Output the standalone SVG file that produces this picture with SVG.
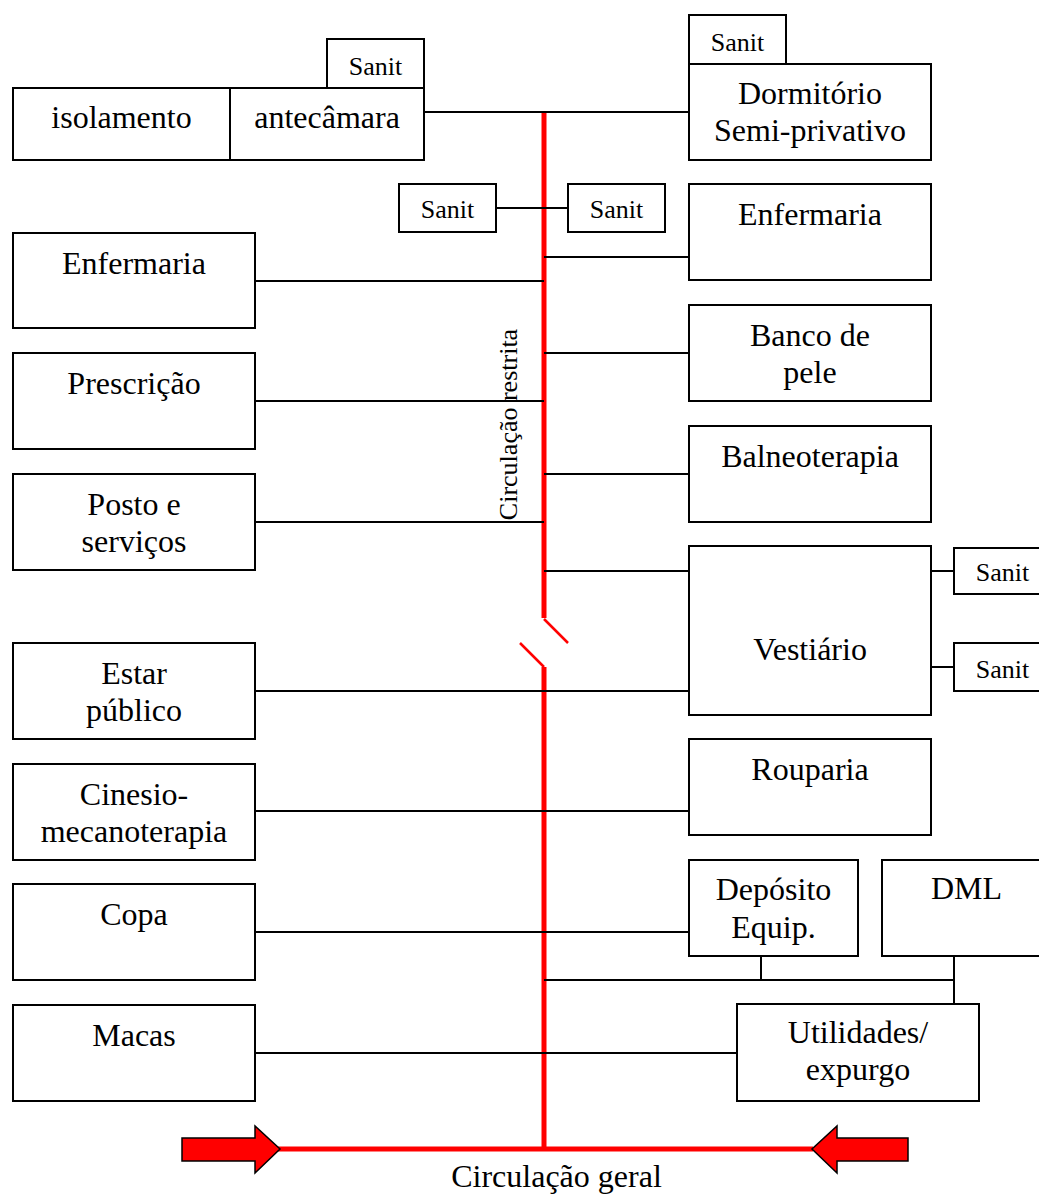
<svg xmlns="http://www.w3.org/2000/svg" width="1039" height="1196" viewBox="0 0 1039 1196">
<style>
.box{fill:#fff;stroke:#000;stroke-width:2}
.t{font-family:"Liberation Serif","Times New Roman",serif;font-size:32px;fill:#000;text-anchor:middle}
.s{font-family:"Liberation Serif","Times New Roman",serif;font-size:26px;fill:#000;text-anchor:middle}
.c{stroke:#000;stroke-width:2;fill:none}
.red{stroke:#f00;stroke-width:5;fill:none}
.redthin{stroke:#f00;stroke-width:2.5;fill:none}
.arrow{fill:#f00;stroke:#000;stroke-width:1.5}
</style>
<rect width="1039" height="1196" fill="#fff"/>
<g id="circulation">
<line class="red" x1="544" y1="112" x2="544" y2="618"/>
<line class="redthin" x1="544" y1="619" x2="568" y2="643"/>
<line class="redthin" x1="520" y1="643" x2="544" y2="667"/>
<line class="red" x1="544" y1="667" x2="544" y2="1149"/>
<line class="red" x1="277" y1="1149" x2="813" y2="1149"/>
<polygon class="arrow" points="182,1138 255,1138 255,1126 280,1149 255,1173 255,1161 182,1161"/>
<polygon class="arrow" points="908,1138 837,1138 837,1126 812,1149 837,1173 837,1161 908,1161"/>
<text class="s" transform="translate(517,424.5) rotate(-90)">Circulação restrita</text>
<text class="t" x="556.5" y="1187">Circulação geral</text>
</g>
<g id="connectors">
<line class="c" x1="424" y1="112" x2="689" y2="112"/>
<line class="c" x1="496" y1="208" x2="568" y2="208"/>
<line class="c" x1="544" y1="257" x2="689" y2="257"/>
<line class="c" x1="255" y1="281" x2="544" y2="281"/>
<line class="c" x1="544" y1="353" x2="689" y2="353"/>
<line class="c" x1="255" y1="401" x2="544" y2="401"/>
<line class="c" x1="544" y1="474" x2="689" y2="474"/>
<line class="c" x1="255" y1="522" x2="544" y2="522"/>
<line class="c" x1="544" y1="571" x2="689" y2="571"/>
<line class="c" x1="931" y1="571" x2="954" y2="571"/>
<line class="c" x1="931" y1="667" x2="954" y2="667"/>
<line class="c" x1="255" y1="691" x2="689" y2="691"/>
<line class="c" x1="255" y1="811" x2="689" y2="811"/>
<line class="c" x1="255" y1="932" x2="689" y2="932"/>
<line class="c" x1="761" y1="956" x2="761" y2="980"/>
<line class="c" x1="544" y1="980" x2="954" y2="980"/>
<line class="c" x1="954" y1="956" x2="954" y2="1004"/>
<line class="c" x1="255" y1="1053" x2="737" y2="1053"/>
</g>
<g id="isolamento"><rect class="box" x="13" y="88" width="217" height="72"/><text class="t" x="121.5" y="128">isolamento</text></g>
<g id="antecamara"><rect class="box" x="230" y="88" width="194" height="72"/><text class="t" x="327" y="128">antecâmara</text></g>
<g id="sanit-antecamara"><rect class="box" x="327" y="39" width="97" height="49"/><text class="s" x="375.5" y="75">Sanit</text></g>
<g id="sanit-dormitorio"><rect class="box" x="689" y="15" width="97" height="49"/><text class="s" x="737.5" y="51">Sanit</text></g>
<g id="dormitorio"><rect class="box" x="689" y="64" width="242" height="96"/><text class="t" x="810" y="104">Dormitório</text><text class="t" x="810" y="141">Semi-privativo</text></g>
<g id="sanit-left"><rect class="box" x="399" y="184" width="97" height="48"/><text class="s" x="447.5" y="218">Sanit</text></g>
<g id="sanit-right"><rect class="box" x="568" y="184" width="97" height="48"/><text class="s" x="616.5" y="218">Sanit</text></g>
<g id="enfermaria-right"><rect class="box" x="689" y="184" width="242" height="96"/><text class="t" x="810" y="225">Enfermaria</text></g>
<g id="enfermaria-left"><rect class="box" x="13" y="233" width="242" height="95"/><text class="t" x="134" y="274">Enfermaria</text></g>
<g id="banco-de-pele"><rect class="box" x="689" y="305" width="242" height="96"/><text class="t" x="810" y="346">Banco de</text><text class="t" x="810" y="383">pele</text></g>
<g id="prescricao"><rect class="box" x="13" y="353" width="242" height="96"/><text class="t" x="134" y="394">Prescrição</text></g>
<g id="balneoterapia"><rect class="box" x="689" y="426" width="242" height="96"/><text class="t" x="810" y="467">Balneoterapia</text></g>
<g id="posto"><rect class="box" x="13" y="474" width="242" height="96"/><text class="t" x="134" y="515">Posto e</text><text class="t" x="134" y="552">serviços</text></g>
<g id="vestiario"><rect class="box" x="689" y="546" width="242" height="169"/><text class="t" x="810" y="660">Vestiário</text></g>
<g id="sanit-vest-1"><rect class="box" x="954" y="548" width="97" height="46"/><text class="s" x="1002.5" y="581">Sanit</text></g>
<g id="sanit-vest-2"><rect class="box" x="954" y="643" width="97" height="48"/><text class="s" x="1002.5" y="678">Sanit</text></g>
<g id="estar-publico"><rect class="box" x="13" y="643" width="242" height="96"/><text class="t" x="134" y="684">Estar</text><text class="t" x="134" y="721">público</text></g>
<g id="rouparia"><rect class="box" x="689" y="739" width="242" height="96"/><text class="t" x="810" y="780">Rouparia</text></g>
<g id="cinesio"><rect class="box" x="13" y="764" width="242" height="96"/><text class="t" x="134" y="805">Cinesio-</text><text class="t" x="134" y="842">mecanoterapia</text></g>
<g id="deposito"><rect class="box" x="689" y="860" width="169" height="96"/><text class="t" x="773.5" y="900">Depósito</text><text class="t" x="773.5" y="938">Equip.</text></g>
<g id="dml"><rect class="box" x="882" y="860" width="169" height="96"/><text class="t" x="966.5" y="899">DML</text></g>
<g id="copa"><rect class="box" x="13" y="884" width="242" height="96"/><text class="t" x="134" y="925">Copa</text></g>
<g id="utilidades"><rect class="box" x="737" y="1004" width="242" height="97"/><text class="t" x="858" y="1043">Utilidades/</text><text class="t" x="858" y="1080">expurgo</text></g>
<g id="macas"><rect class="box" x="13" y="1005" width="242" height="96"/><text class="t" x="134" y="1046">Macas</text></g>
</svg>
